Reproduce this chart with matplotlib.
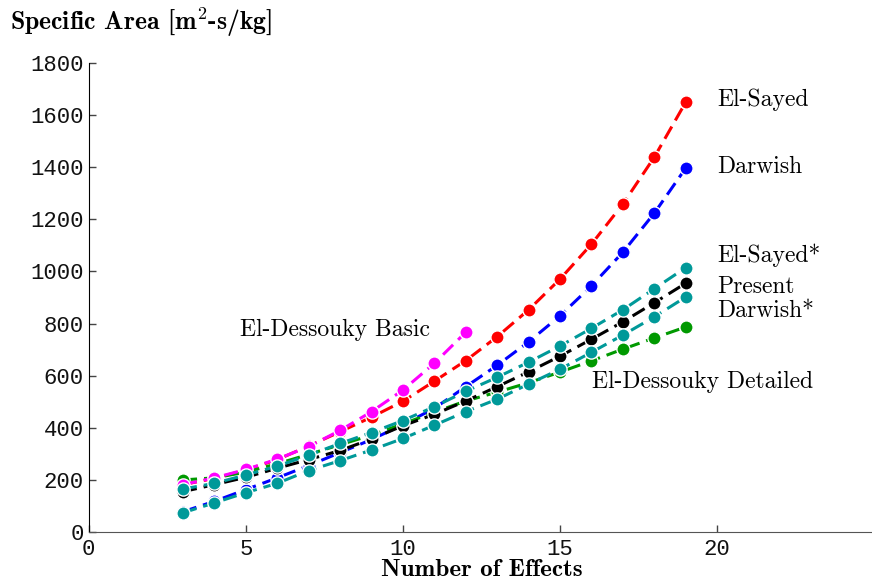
import matplotlib
matplotlib.use('Agg')
import matplotlib.pyplot as plt

plt.rcParams['mathtext.fontset'] = 'cm'
plt.rcParams['axes.unicode_minus'] = False

# Number of effects
effects = list(range(3, 20))
effects_basic = list(range(3, 13))

# Specific area [m2-s/kg] per model
el_sayed = [182, 206, 238, 278, 330, 385, 441, 502, 579, 658, 750, 853, 971, 1105, 1259, 1439, 1650]
darwish = [78, 118, 163, 208, 255, 305, 355, 412, 475, 558, 640, 730, 830, 945, 1074, 1224, 1397]
basic = [182, 208, 240, 280, 328, 390, 462, 545, 648, 767]
detailed = [200, 208, 230, 262, 298, 335, 372, 415, 460, 503, 537, 573, 614, 657, 702, 745, 787]
present = [155, 182, 210, 245, 278, 313, 357, 408, 452, 503, 558, 615, 675, 740, 807, 880, 955]
el_sayed_star = [165, 187, 219, 253, 295, 340, 382, 428, 481, 540, 594, 652, 714, 782, 853, 934, 1015]
darwish_star = [74, 112, 151, 187, 236, 274, 315, 359, 410, 462, 510, 568, 625, 690, 756, 826, 902]

xticks = [0, 5, 10, 15, 20]
yticks = list(range(0, 1801, 200))
xtick_labels = ['0', '5', '10', '15', '20']
ytick_labels = [str(v) for v in yticks]

fig = plt.figure(figsize=(8.72, 5.84), dpi=100)
ax = fig.add_axes([0.1018, 0.0890, 0.9008, 0.803])

teal = '#009999'
green = '#009900'
series = [
    (effects, el_sayed, 'red'),
    (effects, darwish, 'blue'),
    (effects, detailed, green),
    (effects, present, 'black'),
    (effects_basic, basic, 'magenta'),
    (effects, el_sayed_star, teal),
    (effects, darwish_star, teal),
]
for i, (x, y, c) in enumerate(series):
    ax.plot(x, y, color=c, lw=2.2, dashes=(4.6, 2.3), marker='o', ms=9.5,
            markerfacecolor=c, markeredgecolor='white', markeredgewidth=1.0,
            zorder=2 + i)

# curve labels
lab = dict(fontsize=17, family='cmr10', va='center', ha='left')
ax.text(20.0, 1658, 'El-Sayed', **lab)
ax.text(20.0, 1400, 'Darwish', **lab)
ax.text(20.0, 1062, 'El-Sayed*', **lab)
ax.text(20.0, 942, 'Present', **lab)
ax.text(20.0, 850, 'Darwish*', **lab)
ax.text(4.8, 777, 'El-Dessouky Basic', **lab)
ax.text(16.02, 577, 'El-Dessouky Detailed', **lab)

ax.set_xlim(0, 25)
ax.set_ylim(0, 1800)
ax.set_xticks(xticks)
ax.set_xticklabels(xtick_labels, fontfamily='Liberation Mono', fontsize=16)
ax.set_yticks(yticks)
ax.set_yticklabels(ytick_labels, fontfamily='Liberation Mono', fontsize=16)
ax.tick_params(direction='in', length=5, width=1, colors='#444444', labelcolor='#111111')
ax.tick_params(axis='x', pad=5)

ax.spines['top'].set_visible(False)
ax.spines['right'].set_visible(False)
ax.spines['left'].set_color('black')
ax.spines['bottom'].set_color('#555555')

ax.set_xlabel('Number of Effects', family='cmb10', fontsize=18, labelpad=-1)
fig.text(0.011, 0.962, r'Specific Area [m$^{\mathbf{2}}$-s/kg]', family='cmb10',
         fontsize=18.5, va='center', ha='left')

fig.savefig('out.png', dpi=100)
